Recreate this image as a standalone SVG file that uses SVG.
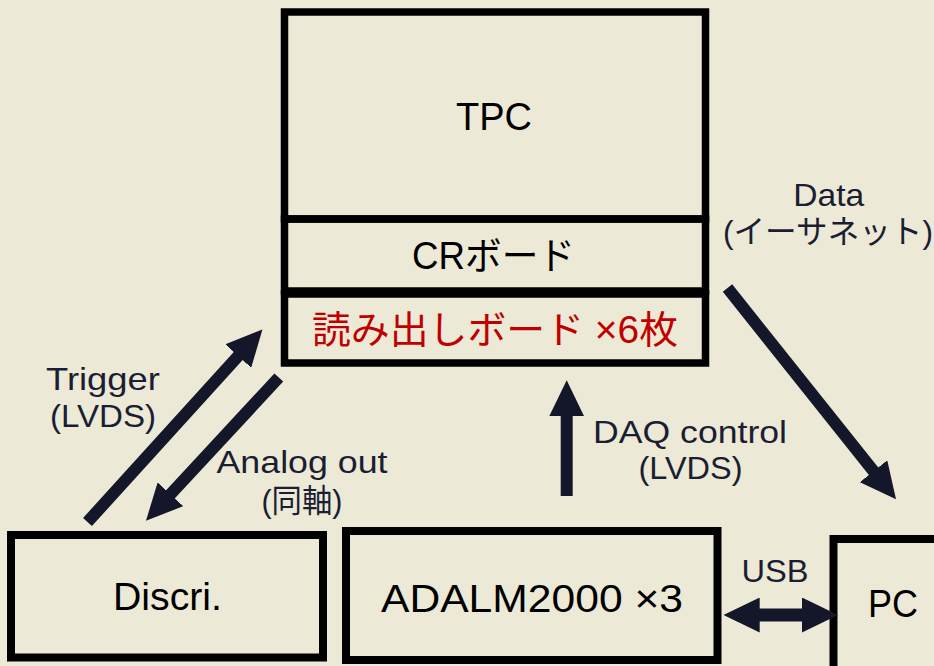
<svg xmlns="http://www.w3.org/2000/svg" width="934" height="666" viewBox="0 0 934 666">
<style>
.box{fill:none;stroke:#000;stroke-width:7.5}
.bt{font-family:"Liberation Sans","Noto Sans CJK JP",sans-serif;font-size:38px;fill:#000;text-anchor:middle}
.lb{font-family:"Liberation Sans","Noto Sans CJK JP",sans-serif;font-size:32px;fill:#1B1E33;text-anchor:middle}
.red{fill:#C00000}
.ar{stroke:#141629;stroke-width:12;fill:none;marker-end:url(#head)}
</style>
<defs>
<marker id="head" viewBox="0 0 36 35" markerWidth="36" markerHeight="35" markerUnits="userSpaceOnUse" refX="1" refY="17.5" orient="auto-start-reverse">
<path d="M0,0 L36,17.5 L0,35 Z" fill="#141629"/>
</marker>
</defs>
<rect width="934" height="666" fill="#ECE9D6"/>
<g id="tpc">
<rect class="box" x="284.5" y="12" width="421" height="207"/>
<text class="bt" x="494" y="130">TPC</text>
</g>
<g id="cr">
<rect class="box" x="284.5" y="219" width="421" height="72"/>
<text class="bt" x="493.5" y="269" textLength="163" lengthAdjust="spacingAndGlyphs">CRボード</text>
</g>
<g id="readout">
<rect class="box" x="284.5" y="294" width="421" height="69"/>
<text class="bt red" x="495" y="343" textLength="366" lengthAdjust="spacingAndGlyphs">読み出しボード ×6枚</text>
</g>
<g id="discri">
<rect class="box" x="11" y="535" width="312" height="122.5" style="stroke-width:8"/>
<text class="bt" x="167.5" y="610" textLength="109" lengthAdjust="spacingAndGlyphs">Discri.</text>
</g>
<g id="adalm">
<rect class="box" x="346" y="531" width="371.5" height="129" style="stroke-width:8"/>
<text class="bt" x="532" y="612" textLength="302" lengthAdjust="spacingAndGlyphs">ADALM2000 ×3</text>
</g>
<g id="pc">
<rect class="box" x="833.5" y="539" width="200" height="200" style="stroke-width:8"/>
<text class="bt" x="893" y="617" textLength="50" lengthAdjust="spacingAndGlyphs">PC</text>
</g>
<g id="connectors">
<line class="ar" x1="87.5" y1="522" x2="238.9" y2="355.3"/>
<line class="ar" x1="278.8" y1="377.5" x2="169.8" y2="495"/>
<line class="ar" x1="727.5" y1="288" x2="874.2" y2="472"/>
<line class="ar" x1="566.7" y1="496" x2="566.7" y2="415.3"/>
<line class="ar" x1="758.7" y1="615" x2="803" y2="615" style="stroke-width:13;marker-start:url(#head)"/>
</g>
<g id="labels">
<text class="lb" x="103" y="390" textLength="114" lengthAdjust="spacingAndGlyphs">Trigger</text>
<text class="lb" x="103" y="427" textLength="106" lengthAdjust="spacingAndGlyphs">(LVDS)</text>
<text class="lb" x="302" y="473" textLength="171" lengthAdjust="spacingAndGlyphs">Analog out</text>
<text class="lb" x="302" y="512" textLength="81" lengthAdjust="spacingAndGlyphs">(同軸)</text>
<text class="lb" x="690" y="443" textLength="194" lengthAdjust="spacingAndGlyphs">DAQ control</text>
<text class="lb" x="690.5" y="479" textLength="104" lengthAdjust="spacingAndGlyphs">(LVDS)</text>
<text class="lb" x="828.7" y="206" textLength="71" lengthAdjust="spacingAndGlyphs">Data</text>
<text class="lb" x="828" y="243" textLength="210" lengthAdjust="spacingAndGlyphs">(イーサネット)</text>
<text class="lb" x="775" y="582" textLength="67" lengthAdjust="spacingAndGlyphs">USB</text>
</g>
</svg>
